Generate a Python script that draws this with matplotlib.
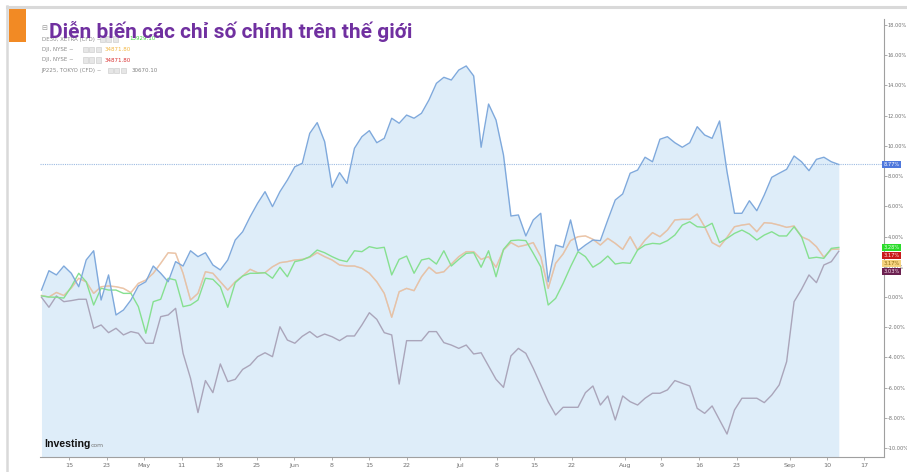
import matplotlib
matplotlib.use("Agg")
import matplotlib.pyplot as plt
from matplotlib.patches import Rectangle
from matplotlib.lines import Line2D
import numpy as np

W, H = 907, 472

# ---------------- data ----------------
title = "Diễn biến các chỉ số chính trên thế giới"

main_idx = [0.46, 1.74, 1.46, 2.05, 1.57, 0.68, 2.45, 3.06, -0.2, 1.46, -1.19, -0.86, -0.2, 0.73, 1.01, 2.05, 1.57,
            1.01, 2.34, 2.05, 3.06, 2.67, 2.93, 2.12, 1.79, 2.45, 3.77, 4.32, 5.31, 6.2, 6.97, 5.98, 6.97, 7.74, 8.62,
            8.85, 10.83, 11.54, 10.28, 7.26, 8.23, 7.52, 9.84, 10.61, 11.01, 10.21, 10.5, 11.83, 11.5, 12.04, 11.83,
            12.16, 13.04, 14.14, 14.54, 14.36, 15.02, 15.29, 14.63, 9.91, 12.77, 11.71, 9.4, 5.36, 5.43, 4.04, 5.1,
            5.54, 1.01, 3.44, 3.29, 5.1, 3.06, 3.44, 3.77, 3.73, 5.1, 6.42, 6.82, 8.19, 8.4, 9.25, 8.95, 10.44, 10.61,
            10.21, 9.91, 10.21, 11.27, 10.72, 10.5, 11.65, 8.29, 5.54, 5.54, 6.37, 5.71, 6.75, 7.92, 8.19, 8.45, 9.33,
            8.95, 8.36, 9.11, 9.25, 8.95, 8.77]

de30 = [0.07, 0.0, -0.02, -0.07, 0.68, 1.57, 1.01, -0.53, 0.58, 0.46, 0.46, 0.24, 0.24, -0.64, -2.4, -0.31, -0.15,
        1.24, 1.12, -0.64, -0.53, -0.2, 1.24, 1.17, 0.68, -0.68, 0.95, 1.39, 1.57, 1.57, 1.61, 1.24, 1.97, 1.34, 2.34,
        2.45, 2.67, 3.11, 2.93, 2.67, 2.45, 2.34, 3.06, 3.0, 3.33, 3.22, 3.29, 1.46, 2.49, 2.71, 1.57, 2.45, 2.56,
        2.18, 3.06, 2.05, 2.49, 2.89, 2.93, 1.97, 3.06, 1.34, 3.15, 3.73, 3.77, 3.73, 2.89, 2.0, -0.53, -0.09, 0.9,
        2.0, 3.0, 2.67, 1.97, 2.27, 2.71, 2.18, 2.27, 2.23, 3.11, 3.44, 3.55, 3.51, 3.73, 4.1, 4.76, 4.98, 4.65, 4.61,
        4.88, 3.6, 3.88, 4.21, 4.43, 4.17, 3.77, 4.1, 4.32, 4.04, 4.04, 4.65, 3.99, 2.56, 2.63, 2.56, 3.22, 3.28]

dji = [0.1, 0.0, 0.3, 0.1, 0.6, 1.24, 1.0, 0.24, 0.68, 0.73, 0.68, 0.57, 0.29, 0.9, 1.12, 1.57, 2.23, 2.93, 2.89,
       1.57, -0.2, 0.24, 1.67, 1.57, 1.01, 0.46, 1.01, 1.39, 1.83, 1.61, 1.61, 2.0, 2.27, 2.34, 2.45, 2.49, 2.63, 2.93,
       2.67, 2.45, 2.12, 2.05, 2.05, 1.9, 1.57, 1.01, 0.24, -1.34, 0.35, 0.57, 0.42, 1.34, 1.97, 1.57, 1.67, 2.18,
       2.67, 3.0, 3.0, 2.49, 2.67, 1.97, 3.11, 3.6, 3.33, 3.44, 3.6, 2.67, 0.57, 2.23, 2.85, 3.73, 3.99, 4.04, 3.82,
       3.44, 3.88, 3.55, 3.15, 3.99, 3.11, 3.77, 4.26, 3.99, 4.43, 5.1, 5.14, 5.14, 5.49, 4.65, 3.6, 3.33, 3.95, 4.65,
       4.76, 4.83, 4.32, 4.92, 4.88, 4.76, 4.61, 4.7, 3.99, 3.77, 3.33, 2.63, 3.15, 3.17]

jp225 = [-0.02, -0.68, 0.07, -0.31, -0.24, -0.15, -0.15, -2.07, -1.85, -2.36, -2.07, -2.51, -2.29, -2.4, -3.06, -3.06,
         -1.3, -1.19, -0.75, -3.73, -5.38, -7.65, -5.53, -6.33, -4.43, -5.6, -5.45, -4.79, -4.5, -3.95, -3.69, -3.95,
         -1.97, -2.85, -3.06, -2.6, -2.29, -2.67, -2.45, -2.63, -2.89, -2.58, -2.58, -1.85, -1.04, -1.48, -2.36, -2.51,
         -5.76, -2.89, -2.89, -2.89, -2.29, -2.29, -3.02, -3.18, -3.4, -3.18, -3.77, -3.69, -4.57, -5.45, -5.98, -3.9,
         -3.4, -3.73, -4.72, -5.82, -6.93, -7.81, -7.3, -7.3, -7.3, -6.33, -5.89, -7.15, -6.55, -8.14, -6.55, -6.93,
         -7.15, -6.7, -6.37, -6.37, -6.15, -5.53, -5.71, -5.89, -7.37, -7.7, -7.21, -8.14, -9.07, -7.48, -6.7, -6.7,
         -6.7, -6.99, -6.49, -5.82, -4.28, -0.31, 0.51, 1.46, 0.95, 2.12, 2.34, 3.03]

x_labels = ['15', '23', 'May', '11', '18', '25', 'Jun', '8', '15', '22', 'Jul', '8', '15', '22',
            'Aug', '9', '16', '23', 'Sep', '10', '17']
tick_pos = [3.73, 8.75, 13.8, 18.8, 23.87, 28.9, 33.9, 38.95, 44.0, 49.0, 56.2, 61.1, 66.1, 71.2,
            78.3, 83.2, 88.3, 93.3, 100.4, 105.4, 110.4]
y_ticks = list(range(-10, 19, 2))

legend_names = ["DE30, XETRA (CFD)", "DJI, NYSE", "DJI, NYSE", "JP225, TOKYO (CFD)"]
legend_values = ["15929.10", "34871.80", "34871.80", "30670.10"]

# ---------------- figure ----------------
fig = plt.figure(figsize=(W / 100, H / 100), dpi=100)
fig.patch.set_facecolor('white')


def fx(px):
    return px / W


def fy(py):
    return 1 - py / H


# page frame
fig.add_artist(Line2D([fx(7), fx(907)], [fy(6.5), fy(6.5)], color='#d9d9d9', lw=2.2))
fig.add_artist(Line2D([fx(7), fx(7)], [fy(6), fy(472)], color='#d9d9d9', lw=1.8))
fig.add_artist(Rectangle((fx(9), fy(42)), fx(17), 35 / H, color='#f28a24', lw=0))

ax = fig.add_axes([fx(40), fy(456.5), fx(883.5 - 40), (456.5 - 19) / H])
ax.set_facecolor('white')

x = np.arange(len(main_idx))
ylo = (297 - 456.5) / 15.11
yhi = (297 - 19) / 15.11

ax.fill_between(x, main_idx, ylo, color='#deedf9', lw=0, zorder=1)
ax.axhline(main_idx[-1], color='#9dbbe2', lw=0.8, ls=(0, (1, 1)), zorder=2)
ax.plot(x, jp225, color='#aaa5ba', lw=1.0, zorder=3)
ax.plot(x, dji, color='#e0a592', lw=1.0, alpha=0.65, zorder=4)
ax.plot(x, dji, color='#ecc79a', lw=1.0, alpha=0.55, zorder=5)
ax.plot(x, de30, color='#86e090', lw=1.0, zorder=6)
ax.plot(x, main_idx, color='#7fa9dc', lw=1.0, zorder=7)

ax.set_xlim(-0.2, 113.0)
ax.set_ylim(ylo, yhi)

for s in ['left', 'top']:
    ax.spines[s].set_visible(False)
for s in ['right', 'bottom']:
    ax.spines[s].set_color('#a0a0a0')
    ax.spines[s].set_linewidth(0.8)

ax.yaxis.tick_right()
ax.set_yticks(y_ticks)
ax.set_yticklabels([f"{v:.2f}%" for v in y_ticks])
ax.set_xticks(tick_pos)
ax.set_xticklabels(x_labels)
ax.tick_params(axis='both', labelsize=4.6, colors='#a0a0a0', labelcolor='#707070',
               length=2.5, width=0.6, pad=2)
ax.tick_params(axis='y', labelsize=3.6, pad=1.0, length=2.0)

# right-side value tags
tags = [(main_idx[-1], '#4f78dc', 'white'),
        (de30[-1], '#2bdc2b', '#e8ffe8'),
        (dji[-1], '#c91a1a', '#ffe6e6'),
        (dji[-1], '#f4d27e', '#8a6a10'),
        (jp225[-1], '#6b2150', '#ffe8f4')]
prev = None
for val, bg, fg in tags:
    pos = val if prev is None or val < prev - 0.53 else prev - 0.53
    prev = pos
    ax.text(1.0, pos, f"{val:.2f}%", transform=ax.get_yaxis_transform(), ha='left', va='center',
            fontsize=3.7, color=fg, zorder=10, clip_on=False,
            bbox=dict(boxstyle='square,pad=0.22', fc=bg, ec='none'))

# legend rows
leg_cols = ['#3fd43f', '#f2b640', '#d93030', '#808080']
rows_y = [39, 49.5, 60, 70.7]
box_x = [100, 83, 83, 108]
val_x = [129, 105, 105, 131.5]
fig.text(fx(41), fy(28), "⊟", fontsize=5, color='#999999', va='center', ha='left')
for name, v, c, ry, bx, vx in zip(legend_names, legend_values, leg_cols, rows_y, box_x, val_x):
    fig.text(fx(41.5), fy(ry), name + " ~", fontsize=4.0, color='#8a8a8a', va='center', ha='left')
    for k in range(3):
        fig.add_artist(Rectangle((fx(bx + k * 6.3), fy(ry + 2.7)), fx(5), 5.4 / H,
                                 fc='#e6e6e6', ec='#c8c8c8', lw=0.4))
    fig.text(fx(vx), fy(ry), v, fontsize=4.0, color=c, va='center', ha='left')

# title
fig.text(fx(49), fy(31), title, fontsize=15, fontweight='bold', color='#7030a0',
         family=['Liberation Sans Narrow', 'Roboto', 'DejaVu Sans'], va='center', ha='left')

# watermark
fig.text(fx(44.5), fy(444), "Investing", fontsize=7.6, fontweight='bold', color='#111111',
         family=['Liberation Sans Narrow', 'Liberation Sans', 'DejaVu Sans'], va='center', ha='left')
fig.text(fx(91), fy(445.5), "com", fontsize=4.4, color='#777777', va='center', ha='left')

fig.savefig('out.png', dpi=100)
